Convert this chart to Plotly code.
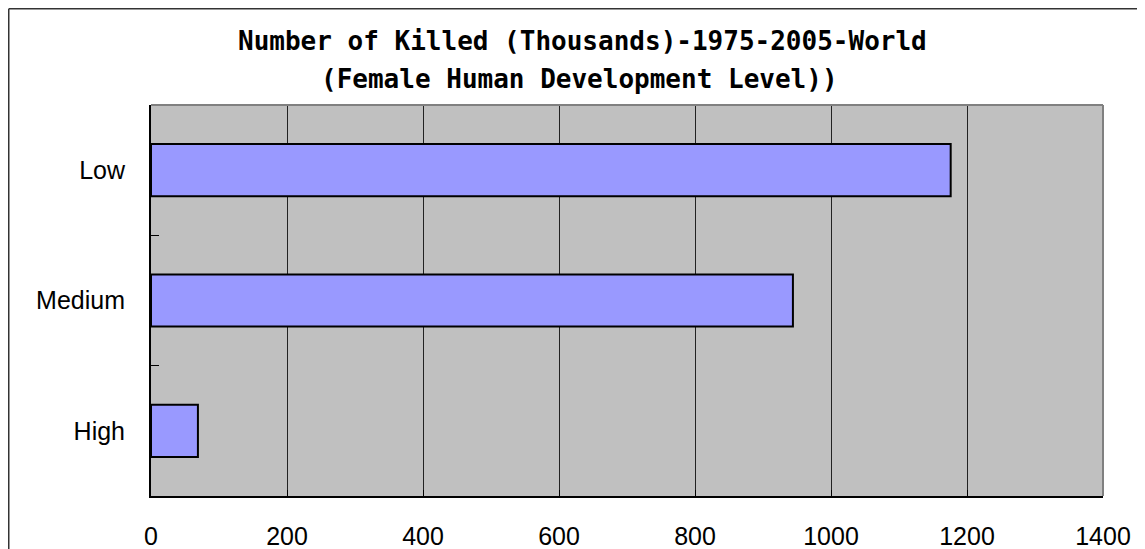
import plotly.graph_objects as go

categories = ["Low", "Medium", "High"]
killed_thousands = [1176, 944, 69]
x_tick_values = [0, 200, 400, 600, 800, 1000, 1200, 1400]
title_line1 = "Number of Killed (Thousands)-1975-2005-World"
title_line2 = "(Female Human Development Level))"

# page is rendered with an 8px body offset; work in page pixel coordinates
OFF = 8
W, H = 1145, 549
PL, PR, PT, PB = 151, 1103, 105, 496  # plot area on page
L = PL - OFF
T = PT - OFF
pw, ph = PR - PL, PB - PT
R = W - L - pw
B = H - T - ph


def px_x(px):
    return (px - PL) / pw


def px_y(py):
    return (PB - py) / ph


fig = go.Figure(
    go.Bar(
        x=killed_thousands,
        y=categories,
        orientation="h",
        marker=dict(color="#9999FF", line=dict(color="black", width=2)),
        hoverinfo="x+y",
    )
)

title_font = dict(family="DejaVu Sans Mono", size=26, color="black", weight="bold")
fig.add_annotation(text=title_line1, xref="paper", yref="paper", x=px_x(582), y=px_y(41),
                   xanchor="center", yanchor="middle", showarrow=False, font=title_font)
fig.add_annotation(text=title_line2, xref="paper", yref="paper", x=px_x(579), y=px_y(79),
                   xanchor="center", yanchor="middle", showarrow=False, font=title_font)

# plot-area top/right border (gray)
fig.add_shape(type="line", xref="paper", yref="paper", x0=0, x1=1, y0=1, y1=1,
              line=dict(color="#808080", width=2), layer="above")
fig.add_shape(type="line", xref="paper", yref="paper", x0=1, x1=1, y0=0, y1=1,
              line=dict(color="#808080", width=2), layer="above")
# outer chart border (top and left edges visible)
fig.add_shape(type="line", xref="paper", yref="paper", x0=px_x(OFF + 0.75), x1=px_x(1160),
              y0=px_y(OFF + 0.75), y1=px_y(OFF + 0.75), line=dict(color="#333333", width=1.5))
fig.add_shape(type="line", xref="paper", yref="paper", x0=px_x(OFF + 0.75), x1=px_x(OFF + 0.75),
              y0=px_y(OFF + 0.75), y1=px_y(570), line=dict(color="#333333", width=1.5))

fig.update_layout(
    width=W, height=H,
    margin=dict(l=L, r=R, t=T, b=B, pad=0, autoexpand=False),
    paper_bgcolor="white",
    plot_bgcolor="#C0C0C0",
    bargap=0.6,
    showlegend=False,
    font=dict(family="Liberation Sans, Arial", size=25, color="black"),
)
fig.update_xaxes(
    range=[0, 1400],
    tickvals=x_tick_values,
    ticktext=[str(v) for v in x_tick_values],
    showgrid=True, gridcolor="#222222", gridwidth=1,
    showline=True, linecolor="black", linewidth=2,
    ticks="inside", ticklen=6, tickcolor="black",
    ticklabelstandoff=17,
    zeroline=False,
    automargin=False,
    tickfont=dict(size=25),
)
fig.update_yaxes(
    categoryorder="array",
    categoryarray=list(reversed(categories)),
    tickson="boundaries",
    ticks="inside", ticklen=8, tickcolor="black",
    showgrid=False,
    showline=True, linecolor="black", linewidth=2,
    ticklabelstandoff=19,
    automargin=False,
    tickfont=dict(size=25),
)

fig.write_html("out.html")
